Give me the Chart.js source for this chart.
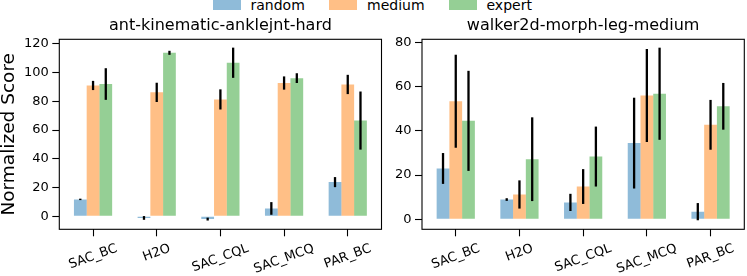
<!DOCTYPE html>
<html>
<head>
<meta charset="utf-8">
<script src="https://cdn.jsdelivr.net/npm/chart.js@4.4.1/dist/chart.umd.min.js"></script>
<style>
  html, body { margin:0; padding:0; background:#fff; }
  body { width:747px; height:276px; position:relative; overflow:hidden; font-family:"DejaVu Sans", sans-serif; }
  canvas { position:absolute; top:0; }
  .lp { position:absolute; top:0; width:28px; height:9.5px; }
  .lt { position:absolute; top:-1.9px; font-size:14px; line-height:14px; color:#000; white-space:nowrap; }
</style>
</head>
<body>
<div id="legend"></div>
<canvas id="c1" width="384" height="276" style="left:0px"></canvas>
<canvas id="c2" width="363" height="276" style="left:384px"></canvas>
<script>
// ---------------- data ----------------
const categories = ['SAC_BC', 'H2O', 'SAC_CQL', 'SAC_MCQ', 'PAR_BC'];
const seriesNames = ['random', 'medium', 'expert'];

const antTitle = 'ant-kinematic-anklejnt-hard';
const antRandom     = [11.8, -1.1, -1.9, 5.5, 23.8];
const antRandomErr  = [0.5, 1.3, 1.0, 4.4, 3.5];
const antMedium     = [91.0, 86.2, 81.3, 92.7, 91.7];
const antMediumErr  = [3.2, 6.7, 7.0, 4.6, 6.7];
const antExpert     = [92.0, 113.7, 106.8, 96.1, 66.6];
const antExpertErr  = [11.0, 1.4, 10.5, 3.4, 20.2];
const antTicks = [0, 20, 40, 60, 80, 100, 120];
const antRange = [-9.0, 123.1];

const walkerTitle = 'walker2d-morph-leg-medium';
const walkerRandom    = [23.0, 8.9, 7.6, 34.5, 3.4];
const walkerRandomErr = [7.0, 0.6, 3.9, 20.6, 3.9];
const walkerMedium    = [53.5, 11.2, 14.8, 56.1, 42.8];
const walkerMediumErr = [21.1, 6.4, 7.9, 21.1, 11.3];
const walkerExpert    = [44.6, 27.2, 28.4, 56.9, 51.2];
const walkerExpertErr = [22.7, 19.0, 13.6, 20.9, 10.6];
const walkerTicks = [0, 20, 40, 60, 80];
const walkerRange = [-4.6, 81.6];

const yLabel = 'Normalized Score';

// ---------------- style ----------------
const colors = ['rgba(31,119,180,0.5)', 'rgba(255,127,14,0.5)', 'rgba(44,160,44,0.5)'];
const FONT = '"DejaVu Sans"';
Chart.defaults.font.family = FONT;
Chart.defaults.color = '#000';

// legend (HTML)
const legendPatchX = [213.3, 329.3, 449.3];
const legendTextX = [250.5, 367, 486.5];
const legend = document.getElementById('legend');
seriesNames.forEach((name, i) => {
  const p = document.createElement('div');
  p.className = 'lp'; p.style.left = legendPatchX[i] + 'px'; p.style.background = colors[i];
  legend.appendChild(p);
  const t = document.createElement('span');
  t.className = 'lt'; t.style.left = legendTextX[i] + 'px'; t.textContent = name;
  legend.appendChild(t);
});

const decor = {
  id: 'decor',
  afterDatasetsDraw(chart, args, opts) {
    const ctx = chart.ctx, ys = chart.scales.y;
    ctx.save();
    ctx.strokeStyle = '#000';
    ctx.lineWidth = 2.3;
    ctx.lineCap = 'butt';
    opts.errors.forEach((errs, d) => {
      const meta = chart.getDatasetMeta(d);
      const vals = chart.data.datasets[d].data;
      meta.data.forEach((el, i) => {
        const v = vals[i].y, e = errs[i];
        ctx.beginPath();
        ctx.moveTo(el.x, ys.getPixelForValue(v + e));
        ctx.lineTo(el.x, ys.getPixelForValue(v - e));
        ctx.stroke();
      });
    });
    ctx.restore();
  },
  afterDraw(chart, args, opts) {
    const ctx = chart.ctx, a = chart.chartArea, xs = chart.scales.x;
    ctx.save();
    // frame
    ctx.strokeStyle = '#000';
    ctx.lineWidth = 1.1;
    ctx.strokeRect(a.left, a.top, a.right - a.left, a.bottom - a.top);
    // title
    ctx.fillStyle = '#000';
    ctx.font = '16px ' + FONT;
    ctx.textAlign = 'center';
    ctx.textBaseline = 'alphabetic';
    ctx.fillText(opts.title, (a.left + a.right) / 2, 29.5);
    // rotated x tick labels, centred on tick
    const ang = 20 * Math.PI / 180, fs = 13;
    ctx.font = fs + 'px ' + FONT;
    categories.forEach((lab, i) => {
      const px = xs.getPixelForValue(i);
      const w = ctx.measureText(lab).width;
      const top = a.bottom + 12.7;
      const cy = top + (w * Math.sin(ang) + fs * Math.cos(ang)) / 2;
      ctx.save();
      ctx.translate(px, cy);
      ctx.rotate(-ang);
      ctx.textAlign = 'center';
      ctx.textBaseline = 'alphabetic';
      ctx.fillText(lab, 0, 0.26 * fs);
      ctx.restore();
    });
    ctx.restore();
  }
};

function makeChart(canvas, cfg) {
  const H = canvas.height, W = canvas.width;
  const datasets = cfg.series.map((s, d) => ({
    label: seriesNames[d],
    data: s.map((v, i) => ({ x: i, y: v })),
    backgroundColor: colors[d],
    borderWidth: 0,
    categoryPercentage: 0.6,
    barPercentage: 1.0
  }));
  const tickGrid = {
    display: true, offset: false, drawOnChartArea: false, drawTicks: true,
    tickLength: 7, tickColor: '#000', tickWidth: 1.1
  };
  return new Chart(canvas, {
    type: 'bar',
    data: { datasets },
    plugins: [decor],
    options: {
      responsive: false, animation: false, devicePixelRatio: 1,
      layout: { padding: { left: 0, top: cfg.area.top, right: W - cfg.area.right, bottom: 0 } },
      plugins: {
        legend: { display: false }, tooltip: { enabled: false }, title: { display: false },
        decor: { title: cfg.title, errors: cfg.errors }
      },
      scales: {
        x: {
          type: 'linear', min: -0.53, max: categories.length - 1 + 0.53, offset: false,
          grid: tickGrid, border: { display: false }, ticks: { display: false },
          afterBuildTicks: s => { s.ticks = categories.map((c, i) => ({ value: i })); },
          afterFit: s => { s.height = H - cfg.area.bottom; }
        },
        y: {
          min: cfg.range[0], max: cfg.range[1],
          grid: tickGrid, border: { display: false },
          ticks: { color: '#000', font: { size: 13 }, padding: 3.5 },
          afterBuildTicks: s => { s.ticks = cfg.ticks.map(v => ({ value: v })); },
          afterFit: s => { s.width = cfg.area.left; },
          title: { display: !!cfg.yLabel, text: cfg.yLabel || '', color: '#000',
                   font: { size: 18.5, lineHeight: 1 }, padding: 0 }
        }
      }
    }
  });
}

makeChart(document.getElementById('c1'), {
  title: antTitle,
  series: [antRandom, antMedium, antExpert],
  errors: [antRandomErr, antMediumErr, antExpertErr],
  ticks: antTicks, range: antRange, yLabel: yLabel,
  area: { left: 59.3, right: 381.5, top: 39.3, bottom: 229.3 }
});
makeChart(document.getElementById('c2'), {
  title: walkerTitle,
  series: [walkerRandom, walkerMedium, walkerExpert],
  errors: [walkerRandomErr, walkerMediumErr, walkerExpertErr],
  ticks: walkerTicks, range: walkerRange, yLabel: null,
  area: { left: 422 - 384, right: 744.3 - 384, top: 39.3, bottom: 229.3 }
});
</script>
</body>
</html>
